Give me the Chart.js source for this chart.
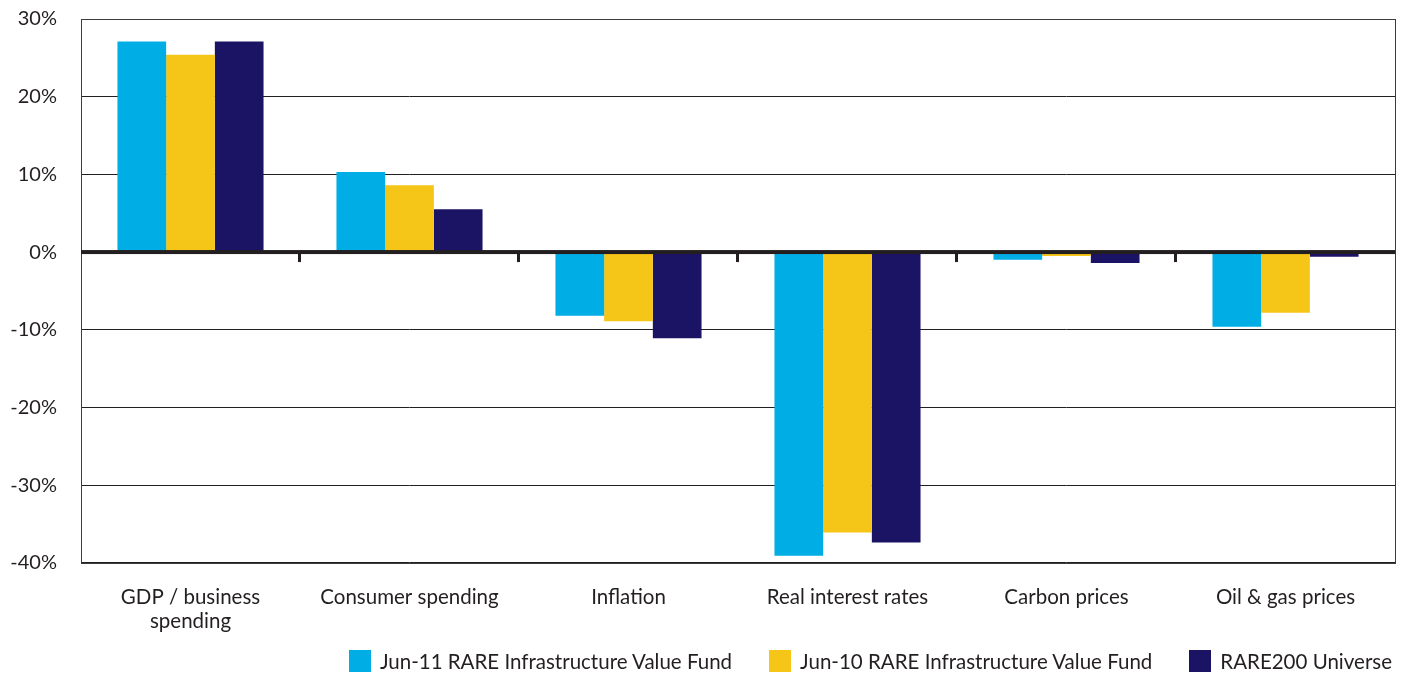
<!DOCTYPE html>
<html>
<head>
<meta charset="utf-8">
<script src="https://cdn.jsdelivr.net/npm/chart.js@4.4.1/dist/chart.umd.min.js"></script>
<style>
  html, body { margin: 0; padding: 0; background: #fff; }
  #wrap { position: relative; width: 1409px; height: 677px; }
  #legend { position: absolute; right: 17px; top: 649px; display: flex; align-items: center;
            font-family: Lato, "Open Sans", sans-serif; font-size: 20.5px; color: #231f20; }
  .item { display: flex; align-items: center; margin-left: 37px; }
  .item:first-child { margin-left: 0; }
  .sw { width: 22px; height: 22px; margin-right: 9px; }
</style>
</head>
<body>
<div id="wrap">
  <canvas id="c" width="1409" height="677"></canvas>
  <div id="legend"></div>
</div>
<script>
const categories = [["GDP / business", "spending"], "Consumer spending", "Inflation", "Real interest rates", "Carbon prices", "Oil & gas prices"];
const seriesNames = ["Jun-11 RARE Infrastructure Value Fund", "Jun-10 RARE Infrastructure Value Fund", "RARE200 Universe"];
const jun11 = [27.1, 10.3, -8.2, -39.1, -1.0, -9.6];
const jun10 = [25.4, 8.6, -8.9, -36.1, -0.5, -7.8];
const rare200 = [27.1, 5.5, -11.1, -37.4, -1.4, -0.6];
const yTicks = [-40, -30, -20, -10, 0, 10, 20, 30];
const colors = ["#00ade4", "#f5c518", "#1b1464"];

const ink = "#231f20";
const fontFamily = "Lato, 'Open Sans', sans-serif";

const framePlugin = {
  id: "frame",
  afterDatasetsDraw(chart) {
    const { ctx, chartArea: a, scales } = chart;
    const y0 = scales.y.getPixelForValue(0);
    ctx.save();
    ctx.strokeStyle = "#3c3c3c";
    ctx.lineWidth = 1;
    ctx.strokeRect(Math.round(a.left) + 0.5, Math.round(a.top) + 0.5, Math.round(a.right - a.left), Math.round(a.bottom - a.top));
    ctx.fillStyle = ink;
    ctx.fillRect(a.left, y0 - 2, a.right - a.left, 4);
    for (let i = 1; i < categories.length; i++) {
      const x = scales.x.getPixelForValue(i - 0.5);
      ctx.fillRect(Math.round(x) - 2, y0, 3, 10);
    }
    ctx.restore();
  }
};

const chart = new Chart(document.getElementById("c"), {
  type: "bar",
  data: {
    labels: categories,
    datasets: [
      { label: seriesNames[0], data: jun11, backgroundColor: colors[0] },
      { label: seriesNames[1], data: jun10, backgroundColor: colors[1] },
      { label: seriesNames[2], data: rare200, backgroundColor: colors[2] }
    ]
  },
  options: {
    responsive: false,
    animation: false,
    devicePixelRatio: 1,
    categoryPercentage: 0.667,
    barPercentage: 1.0,
    layout: { padding: { left: 5, right: 14, top: 19, bottom: 21 } },
    plugins: { legend: { display: false }, tooltip: { enabled: false } },
    scales: {
      x: {
        grid: { display: false, drawTicks: false },
        border: { display: false },
        ticks: { color: ink, font: { family: fontFamily, size: 20.5 }, padding: 22, maxRotation: 0, autoSkip: false }
      },
      y: {
        min: -40, max: 30,
        afterBuildTicks(scale) { scale.ticks = yTicks.map(v => ({ value: v })); },
        afterFit(scale) { scale.width = 76; scale.paddingTop = 0; scale.paddingBottom = 0; },
        grid: { color: ink, lineWidth: 1, drawTicks: false },
        border: { display: false },
        ticks: { color: ink, font: { family: fontFamily, size: 20 }, padding: 24, callback: v => v + "%" }
      }
    }
  },
  plugins: [framePlugin]
});

const legend = document.getElementById("legend");
chart.data.datasets.forEach(ds => {
  const item = document.createElement("div");
  item.className = "item";
  const sw = document.createElement("span");
  sw.className = "sw";
  sw.style.background = ds.backgroundColor;
  const tx = document.createElement("span");
  tx.textContent = ds.label;
  item.appendChild(sw);
  item.appendChild(tx);
  legend.appendChild(item);
});
</script>
</body>
</html>
